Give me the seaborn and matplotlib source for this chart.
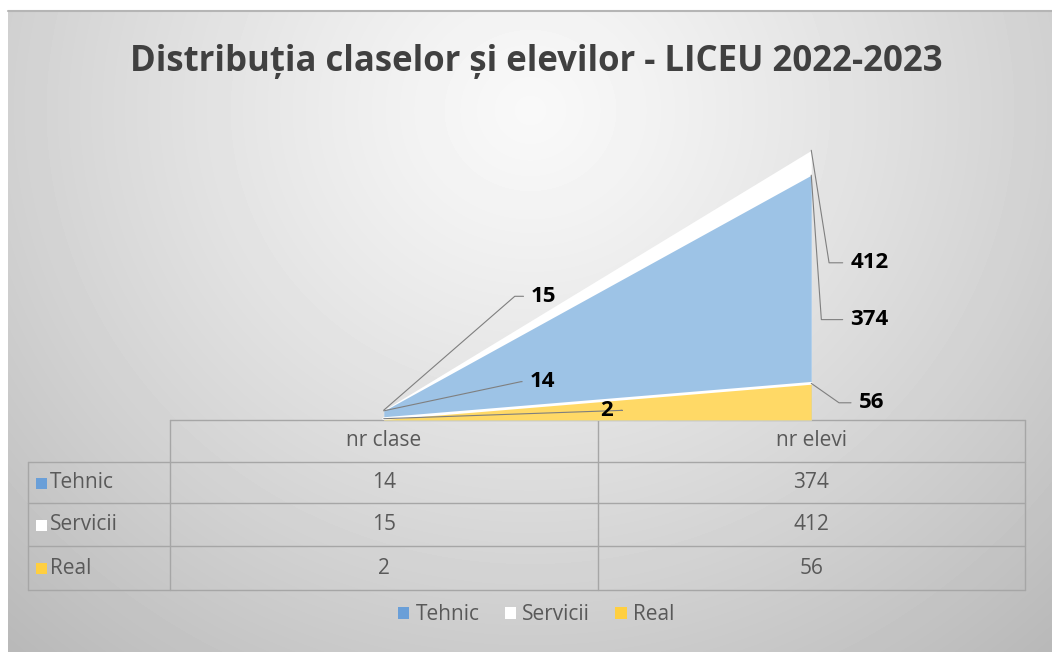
import numpy as np
import pandas as pd
import seaborn as sns
import matplotlib.pyplot as plt
from matplotlib.patches import Patch

##########
## Data ##
##########

categories = ['nr clase', 'nr elevi']
series = ['Tehnic', 'Servicii', 'Real']
tehnic = [14, 374]
servicii = [15, 412]
real = [2, 56]

title = 'Distribuția claselor și elevilor - LICEU 2022-2023'

area_colors = {'Tehnic': '#9dc3e6', 'Servicii': '#ffffff', 'Real': '#ffd966'}
key_colors = {'Tehnic': '#6a9fd8', 'Servicii': '#ffffff', 'Real': '#ffcf40'}

df = pd.DataFrame({'Tehnic': tehnic, 'Servicii': servicii, 'Real': real}, index=categories)
df['pos'] = np.arange(len(categories))

sns.set_theme(style='white')
plt.rcParams['font.family'] = ['Open Sans', 'DejaVu Sans']

W, H = 1052, 652
fig = plt.figure(figsize=(W / 100, H / 100), dpi=100)
fig.patch.set_facecolor('white')

################
## Background ##
################

bg = fig.add_axes([0, 0, 1, 1], zorder=0)
bg.set_xlim(0, W)
bg.set_ylim(H, 0)
bg.axis('off')
yy, xx = np.mgrid[10:H, 8:W]
r = np.sqrt(((xx - 530) / 640) ** 2 + ((yy - 110) / 600) ** 2)
grad = 0.975 - 0.2 * np.clip(r, 0, 1.2) ** 1.2
bg.imshow(grad, cmap='gray', vmin=0, vmax=1, extent=(8, W, H, 10), aspect='auto', interpolation='bilinear')
bg.plot([8, W], [10.5, 10.5], color='#b5b5b5', lw=1.5)

bg.text(536, 62, title, ha='center', va='center', fontsize=25, fontweight='bold', color='#404040')

# data table
line_kw = dict(color='#a6a6a6', lw=1)
x_left, x_lab, x_mid, x_right = 28, 170, 598, 1025
rows_y = [420, 462, 503, 546, 590]
bg.plot([x_lab, x_right], [rows_y[0]] * 2, **line_kw)
for y in rows_y[1:]:
    bg.plot([x_left, x_right], [y, y], **line_kw)
bg.plot([x_left, x_left], [rows_y[1], rows_y[-1]], **line_kw)
for x in [x_lab, x_mid, x_right]:
    bg.plot([x, x], [rows_y[0], rows_y[-1]], **line_kw)

col_centers = [(x_lab + x_mid) / 2, (x_mid + x_right) / 2]
for c, cx in zip(categories, col_centers):
    bg.text(cx, (rows_y[0] + rows_y[1]) / 2, c, ha='center', va='center', fontsize=15, color='#595959')
for i, s in enumerate(series):
    cy = (rows_y[i + 1] + rows_y[i + 2]) / 2
    bg.add_patch(plt.Rectangle((36, cy - 5), 11, 11, color=key_colors[s], lw=0))
    bg.text(50, cy, s, ha='left', va='center', fontsize=15, color='#595959')
    for j, cx in enumerate(col_centers):
        bg.text(cx, cy, str(df[s].iloc[j]), ha='center', va='center', fontsize=15, color='#595959')

################
## Area chart ##
################

ax = fig.add_axes([x_lab / W, (H - 420) / H, (x_right - x_lab) / W, 290 / H], zorder=1)
ax.set_facecolor('none')
ax.set_xlim(-0.5, len(categories) - 0.5)
ax.set_ylim(0, 443)
ax.axis('off')

for s in ['Servicii', 'Tehnic', 'Real']:
    ax.fill_between(df['pos'], 0, df[s], color=area_colors[s], lw=0)
sns.lineplot(data=df, x='pos', y='Real', color='white', lw=2, ax=ax)

# data labels with leader lines (offsets in points)
offsets = {
    ('Servicii', 0): (106, 82, 41),
    ('Tehnic', 0): (105, 21, 12),
    ('Real', 0): (156, 6, 2),
    ('Servicii', 1): (28, -81, -81),
    ('Tehnic', 1): (28, -104, -86),
    ('Real', 1): (34, -14, -35),
}
for (s, j), (dx, dy, ang) in offsets.items():
    ax.annotate(str(df[s].iloc[j]), xy=(df['pos'].iloc[j], df[s].iloc[j]),
                xytext=(dx, dy), textcoords='offset points', ha='left', va='center',
                fontsize=16, fontweight='bold', color='black',
                arrowprops=dict(arrowstyle='-', color='#7f7f7f', lw=0.8, relpos=(0, 0.5),
                                shrinkA=3, shrinkB=0,
                                connectionstyle=f'angle,angleA=0,angleB={ang},rad=0'),
                annotation_clip=False)

############
## Legend ##
############

handles = [Patch(facecolor=key_colors[s], edgecolor='none', label=s) for s in series]
fig.legend(handles=handles, loc='center', bbox_to_anchor=(536 / W, 1 - 615 / H), ncol=3,
           frameon=False, fontsize=15, handlelength=0.55, handleheight=0.55,
           handletextpad=0.3, columnspacing=1.2, labelcolor='#595959')

fig.savefig('out.png', dpi=100)
